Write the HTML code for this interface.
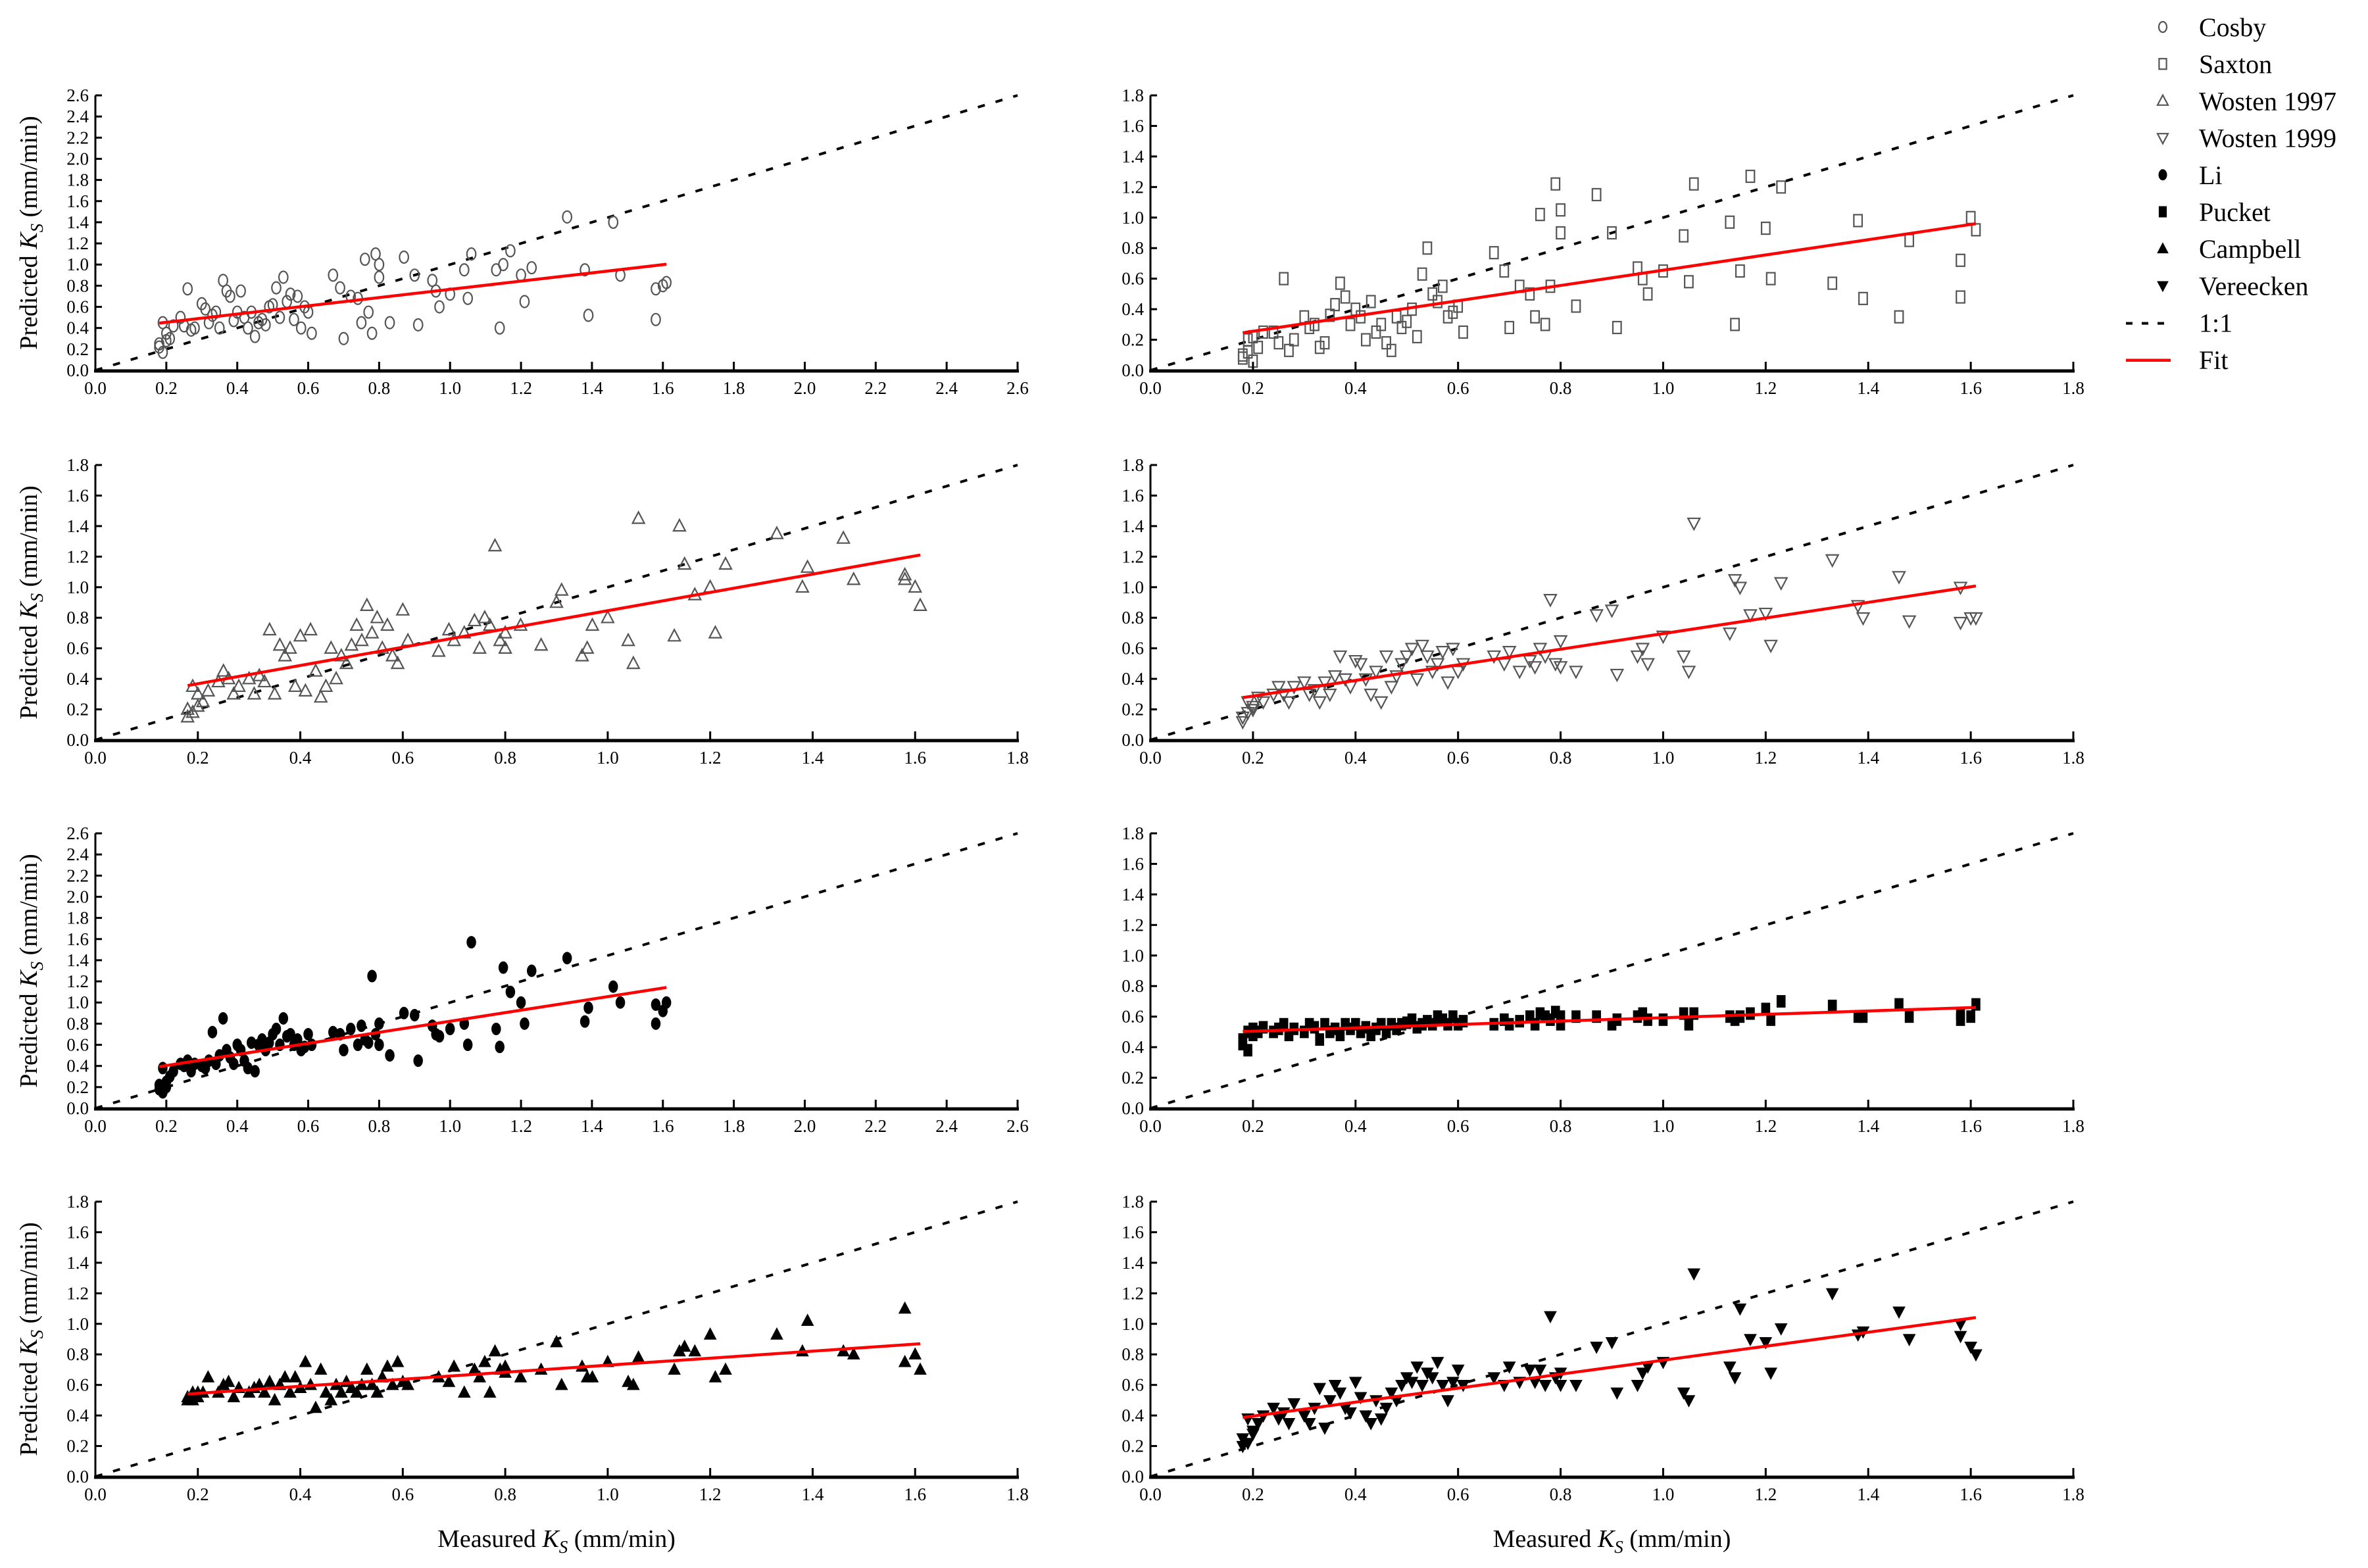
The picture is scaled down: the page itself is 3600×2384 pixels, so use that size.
<!DOCTYPE html>
<html><head><meta charset="utf-8"><style>
html,body{margin:0;padding:0;background:#fff;}
svg{display:block;}
text{font-family:"Liberation Serif","Times New Roman",serif;}
</style></head><body>
<svg id="fig" width="3600" height="2384" viewBox="0 0 3600 2384" xmlns="http://www.w3.org/2000/svg" font-family="Liberation Serif, serif"></svg>
<script>
const measured = [0.18,0.18,0.19,0.19,0.2,0.2,0.21,0.22,0.24,0.25,0.26,0.27,0.28,0.3,0.31,0.32,0.33,0.34,0.35,0.36,0.37,0.38,0.39,0.4,0.41,0.42,0.43,0.44,0.45,0.46,0.47,0.48,0.49,0.5,0.51,0.52,0.53,0.54,0.55,0.56,0.57,0.58,0.59,0.6,0.61,0.67,0.69,0.7,0.72,0.74,0.75,0.76,0.77,0.78,0.79,0.8,0.8,0.83,0.87,0.9,0.91,0.95,0.96,0.97,1.0,1.04,1.05,1.06,1.13,1.14,1.15,1.17,1.2,1.21,1.23,1.33,1.38,1.39,1.46,1.48,1.58,1.58,1.6,1.61];
const cosby = [0.25,0.22,0.45,0.17,0.35,0.28,0.3,0.42,0.5,0.42, 0.77,0.38,0.4,0.63,0.58,0.45,0.52,0.55,0.4,0.85, 0.75,0.7,0.47,0.55,0.75,0.5,0.4,0.55,0.32,0.45, 0.48,0.43,0.6,0.62,0.78,0.5,0.88,0.65,0.72,0.48, 0.7,0.4,0.6,0.55,0.35,0.9,0.78,0.3,0.7,0.68, 0.45,1.05,0.55,0.35,1.1,1.0,0.88,0.45,1.07,0.9, 0.43,0.85,0.75,0.6,0.72,0.95,0.68,1.1,0.95,0.4, 1.0,1.13,0.9,0.65,0.97,1.45,0.95,0.52,1.4,0.9, 0.48,0.77,0.8,0.83];
const saxton = [0.1,0.08,0.2,0.12,0.22,0.06,0.15,0.25,0.25,0.18, 0.6,0.13,0.2,0.35,0.28,0.3,0.15,0.18,0.36,0.43, 0.57,0.48,0.3,0.4,0.35,0.2,0.45,0.25,0.3,0.18, 0.13,0.35,0.28,0.32,0.4,0.22,0.63,0.8,0.5,0.45, 0.55,0.35,0.38,0.42,0.25,0.77,0.65,0.28,0.55,0.5, 0.35,1.02,0.3,0.55,1.22,1.05,0.9,0.42,1.15,0.9, 0.28,0.67,0.6,0.5,0.65,0.88,0.58,1.22,0.97,0.3, 0.65,1.27,0.93,0.6,1.2,0.57,0.98,0.47,0.35,0.85, 0.72,0.48,1.0,0.92];
const wosten1997 = [0.2,0.15,0.35,0.18,0.3,0.22,0.25,0.32,0.38,0.45, 0.4,0.3,0.35,0.4,0.3,0.42,0.38,0.72,0.3,0.62, 0.55,0.6,0.35,0.68,0.32,0.72,0.45,0.28,0.35,0.6, 0.4,0.55,0.5,0.62,0.75,0.65,0.88,0.7,0.8,0.6, 0.75,0.55,0.5,0.85,0.65,0.58,0.72,0.65,0.7,0.78, 0.6,0.8,0.75,1.27,0.65,0.7,0.6,0.75,0.62,0.9, 0.98,0.55,0.6,0.75,0.8,0.65,0.5,1.45,0.68,1.4, 1.15,0.95,1.0,0.7,1.15,1.35,1.0,1.13,1.32,1.05, 1.05,1.08,1.0,0.88];
const wosten1999 = [0.15,0.12,0.25,0.18,0.22,0.2,0.28,0.25,0.3,0.35, 0.3,0.25,0.35,0.38,0.3,0.33,0.25,0.38,0.3,0.42, 0.55,0.4,0.35,0.52,0.5,0.4,0.3,0.45,0.25,0.55, 0.35,0.42,0.5,0.55,0.6,0.4,0.62,0.55,0.45,0.5, 0.58,0.38,0.6,0.45,0.5,0.55,0.5,0.58,0.45,0.52, 0.48,0.6,0.55,0.92,0.5,0.65,0.48,0.45,0.82,0.85, 0.43,0.55,0.6,0.5,0.68,0.55,0.45,1.42,0.7,1.05, 1.0,0.82,0.83,0.62,1.03,1.18,0.88,0.8,1.07,0.78, 0.77,1.0,0.8,0.8];
const li = [0.22,0.18,0.38,0.15,0.25,0.2,0.3,0.35,0.42,0.4, 0.45,0.35,0.42,0.4,0.38,0.45,0.72,0.42,0.5,0.85, 0.55,0.48,0.42,0.6,0.55,0.45,0.38,0.62,0.35,0.6, 0.65,0.55,0.62,0.7,0.75,0.6,0.85,0.68,0.7,0.6, 0.65,0.55,0.58,0.7,0.6,0.72,0.7,0.55,0.75,0.6, 0.78,0.65,0.62,1.25,0.7,0.6,0.8,0.5,0.9,0.88, 0.45,0.78,0.7,0.68,0.75,0.8,0.6,1.57,0.75,0.58, 1.33,1.1,1.0,0.8,1.3,1.42,0.82,0.95,1.15,1.0, 0.8,0.98,0.92,1.0];
const pucket = [0.42,0.45,0.5,0.38,0.48,0.52,0.5,0.53,0.5,0.52, 0.55,0.48,0.52,0.5,0.55,0.53,0.45,0.55,0.5,0.52, 0.48,0.55,0.52,0.55,0.5,0.53,0.48,0.52,0.55,0.5, 0.55,0.52,0.55,0.56,0.58,0.53,0.55,0.57,0.55,0.6, 0.58,0.55,0.6,0.55,0.57,0.55,0.58,0.55,0.57,0.6, 0.55,0.62,0.6,0.58,0.63,0.6,0.55,0.6,0.6,0.55, 0.58,0.6,0.62,0.58,0.58,0.62,0.55,0.62,0.6,0.58, 0.6,0.62,0.65,0.58,0.7,0.67,0.6,0.6,0.68,0.6, 0.58,0.62,0.6,0.68];
const campbell = [0.5,0.52,0.55,0.5,0.55,0.52,0.55,0.65,0.55,0.6, 0.62,0.52,0.58,0.55,0.58,0.6,0.55,0.62,0.5,0.6, 0.65,0.55,0.65,0.58,0.75,0.6,0.45,0.7,0.55,0.5, 0.6,0.55,0.62,0.58,0.55,0.6,0.7,0.6,0.55,0.65, 0.72,0.6,0.75,0.62,0.6,0.65,0.62,0.72,0.55,0.7, 0.65,0.75,0.55,0.82,0.7,0.68,0.72,0.65,0.7,0.88, 0.6,0.72,0.65,0.65,0.75,0.62,0.6,0.78,0.7,0.82, 0.85,0.82,0.93,0.65,0.7,0.93,0.82,1.02,0.82,0.8, 1.1,0.75,0.8,0.7];
const vereecken = [0.25,0.2,0.38,0.22,0.3,0.28,0.35,0.4,0.45,0.38, 0.42,0.35,0.48,0.4,0.35,0.45,0.58,0.32,0.5,0.6, 0.55,0.45,0.42,0.62,0.52,0.4,0.35,0.5,0.38,0.45, 0.55,0.5,0.6,0.65,0.62,0.72,0.6,0.68,0.65,0.75, 0.6,0.5,0.62,0.7,0.6,0.65,0.6,0.72,0.62,0.7, 0.62,0.7,0.6,1.05,0.65,0.6,0.68,0.6,0.85,0.88, 0.55,0.6,0.68,0.72,0.75,0.55,0.5,1.33,0.72,0.65, 1.1,0.9,0.88,0.68,0.97,1.2,0.93,0.95,1.08,0.9, 1.0,0.92,0.85,0.8];
const legendLabels = ["Cosby","Saxton","Wosten 1997","Wosten 1999","Li","Pucket","Campbell","Vereecken","1:1","Fit"];

const NS="http://www.w3.org/2000/svg";
const svg=document.getElementById('fig');
const FONT='"Liberation Serif", "Times New Roman", serif';
function mk(tag,attrs,parent){const e=document.createElementNS(NS,tag);for(const k in attrs)e.setAttribute(k,attrs[k]);if(tag==='text')e.setAttribute('font-family',FONT);(parent||svg).appendChild(e);return e;}

function marker(g,type,cx,cy,s){
  let e;
  const open = ['circle','square','tri-up','tri-down'].includes(type);
  const st = open?{fill:'none',stroke:'#555','stroke-width':2.2}:{fill:'#000',stroke:'#000','stroke-width':1};
  if(type==='circle'||type==='dot') e=mk('ellipse',Object.assign({cx:cx,cy:cy,rx:s*0.75,ry:s},st),g);
  else if(type==='square'||type==='fsquare') e=mk('rect',Object.assign({x:cx-s*0.7,y:cy-s,width:s*1.4,height:s*2},st),g);
  else if(type==='tri-up'||type==='ftri-up') e=mk('polygon',Object.assign({points:`${cx},${cy-s*1.1} ${cx-s},${cy+s*0.8} ${cx+s},${cy+s*0.8}`},st),g);
  else e=mk('polygon',Object.assign({points:`${cx},${cy+s*1.1} ${cx-s},${cy-s*0.8} ${cx+s},${cy-s*0.8}`},st),g);
  return e;
}

const panels=[
 {name:'cosby',data:cosby,m:'circle',px0:145,px1:1547,py0:563,py1:145,xmax:2.6,ymax:2.6},
 {name:'saxton',data:saxton,m:'square',px0:1749,px1:3152,py0:563,py1:145,xmax:1.8,ymax:1.8},
 {name:'wosten-1997',data:wosten1997,m:'tri-up',px0:145,px1:1547,py0:1125,py1:707,xmax:1.8,ymax:1.8},
 {name:'wosten-1999',data:wosten1999,m:'tri-down',px0:1749,px1:3152,py0:1125,py1:707,xmax:1.8,ymax:1.8},
 {name:'li',data:li,m:'dot',px0:145,px1:1547,py0:1685,py1:1267,xmax:2.6,ymax:2.6},
 {name:'pucket',data:pucket,m:'fsquare',px0:1749,px1:3152,py0:1685,py1:1267,xmax:1.8,ymax:1.8},
 {name:'campbell',data:campbell,m:'ftri-up',px0:145,px1:1547,py0:2245,py1:1827,xmax:1.8,ymax:1.8},
 {name:'vereecken',data:vereecken,m:'ftri-down',px0:1749,px1:3152,py0:2245,py1:1827,xmax:1.8,ymax:1.8}
];

panels.forEach((p,pi)=>{
  const g=mk('g',{});
  
  
  const X=v=>p.px0+(v/p.xmax)*(p.px1-p.px0);
  const Y=v=>p.py0-(v/p.ymax)*(p.py0-p.py1);
  const one=mk('line',{x1:X(0),y1:Y(0),x2:X(Math.min(p.xmax,p.ymax)),y2:Y(Math.min(p.xmax,p.ymax)),stroke:'#000','stroke-width':4,'stroke-dasharray':'11 17'},g);
  
  
  measured.forEach((mx,i)=>{
    const e=marker(g,p.m,X(mx),Y(p.data[i]),9);
    
    
  });
  const n=measured.length;let sx=0,sy=0,sxx=0,sxy=0;
  for(let i=0;i<n;i++){sx+=measured[i];sy+=p.data[i];sxx+=measured[i]*measured[i];sxy+=measured[i]*p.data[i];}
  const b=(n*sxy-sx*sy)/(n*sxx-sx*sx), a=(sy-b*sx)/n;
  const xa=Math.min(...measured), xb=Math.max(...measured);
  const fit=mk('line',{x1:X(xa),y1:Y(a+b*xa),x2:X(xb),y2:Y(a+b*xb),stroke:'#f00','stroke-width':4.5},g);
  
  
  const ya=mk('line',{x1:p.px0,y1:p.py0,x2:p.px0,y2:p.py1,stroke:'#000','stroke-width':3},g);
  
  
  const xaL=mk('line',{x1:p.px0-2,y1:p.py0+1,x2:p.px1+2,y2:p.py0+1,stroke:'#000','stroke-width':5},g);
  
  
  const nx=Math.round(p.xmax/0.2);
  for(let k=0;k<=nx;k++){
    const v=k*0.2, x=X(v);
    mk('line',{x1:x,y1:p.py0,x2:x,y2:p.py0-13,stroke:'#000','stroke-width':3},g);
    const t=mk('text',{x:x,y:p.py0+36,'font-size':27,'text-anchor':'middle',fill:'#000'},g);
    t.textContent=v.toFixed(1);
    
    
  }
  const ny=Math.round(p.ymax/0.2);
  for(let k=0;k<=ny;k++){
    const v=k*0.2, y=Y(v);
    mk('line',{x1:p.px0,y1:y,x2:p.px0+10,y2:y,stroke:'#000','stroke-width':3},g);
    const t=mk('text',{x:p.px0-10,y:y+9,'font-size':27,'text-anchor':'end',fill:'#000'},g);
    t.textContent=v.toFixed(1);
    
    
  }
  if(pi%2===0){
    const cy=(p.py0+p.py1)/2;
    const t=mk('text',{x:0,y:0,'font-size':38,'text-anchor':'middle',fill:'#000',transform:`translate(56,${cy}) rotate(-90)`},g);
    t.innerHTML='Predicted <tspan font-style="italic">K</tspan><tspan font-style="italic" font-size="27" dy="9">S</tspan><tspan dy="-9"> (mm/min)</tspan>';
    
    
  }
  if(pi>=6){
    const t=mk('text',{x:(p.px0+p.px1)/2,y:2352,'font-size':38,'text-anchor':'middle',fill:'#000'},g);
    t.innerHTML='Measured <tspan font-style="italic">K</tspan><tspan font-style="italic" font-size="27" dy="9">S</tspan><tspan dy="-9"> (mm/min)</tspan>';
    
    
  }
});

const lg=mk('g',{});


const ltypes=['circle','square','tri-up','tri-down','dot','fsquare','ftri-up','ftri-down'];
legendLabels.forEach((lab,i)=>{
  const y=42+i*56.2;
  const eg=mk('g',{},lg);
  
  
  if(i<8) marker(eg,ltypes[i],3288,y-1,8);
  else if(i===8) mk('line',{x1:3232,y1:y,x2:3296,y2:y,stroke:'#000','stroke-width':4,'stroke-dasharray':'10 14'},eg);
  else mk('line',{x1:3232,y1:y,x2:3300,y2:y,stroke:'#f00','stroke-width':4.5},eg);
  const t=mk('text',{x:3343,y:y+13,'font-size':40,fill:'#000'},eg);
  t.textContent=lab;
});
</script>
</body></html>
